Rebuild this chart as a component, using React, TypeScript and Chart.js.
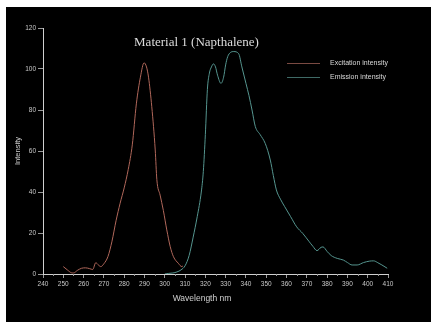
import React, { useEffect, useRef } from "react";
import { Chart, registerables } from "chart.js";

Chart.register(...registerables);

// Excitation spectrum (nm, intensity)
const excitationNm = [250, 252, 254, 255, 257, 259, 261, 263, 264.5, 266, 267.3, 268.5, 270, 272, 274, 276, 278, 280, 282, 284, 286, 288, 289.8, 291, 292, 293.6, 295.3, 296.1, 297.7, 299.3, 301, 302.7, 304.3, 306.7, 308.4, 309];
const excitationIntensity = [3.6, 2, 0.6, 0.5, 1.8, 2.8, 3, 2.6, 2.2, 5.5, 4.4, 3.6, 5, 8.5, 16, 26, 34.5, 42, 51, 63, 83, 96, 103, 101, 96, 81.6, 60.5, 46, 38.5, 31, 21.5, 13.3, 8.4, 5.2, 3.6, 4];

// Emission spectrum (nm, intensity)
const emissionNm = [300, 302, 304, 306, 308, 310, 312, 314, 316, 318, 319, 320, 321, 322, 323, 324, 325, 326, 327.7, 329, 330, 331, 332.3, 334, 336.4, 338, 340, 341.5, 343, 344.6, 347, 349.5, 352, 353.5, 355, 357, 359, 362, 365, 368, 371, 373, 375, 377, 378, 380, 382, 385, 388, 390, 392.3, 394.8, 398, 401, 403, 405, 407, 409.6];
const emissionIntensity = [0, 0.3, 0.5, 1, 2, 4, 9, 18, 28, 40, 50, 68, 90, 98, 101, 102.5, 101, 97, 93, 96, 102, 106, 108, 108.5, 107.5, 101, 93, 87, 80, 72, 68, 63.7, 55.6, 48, 41, 36.5, 33, 28, 23, 19.8, 16, 13.5, 11.4, 13, 13.2, 11, 9, 7.6, 6.8, 5.6, 4.4, 4.4, 5.6, 6.3, 6.4, 5.5, 4.4, 2.8];

const seriesLabels = ["Excitation intensity", "Emission intensity"];
const seriesColors = ["#b0675a", "#55958f"];
const legendLineColors = ["#7a4a42", "#3f6a66"];

const xTicks = { min: 240, max: 410, step: 10, minorStep: 5 };
const yTicks = { min: 0, max: 120, step: 20 };

const chartTitle = "Material 1 (Napthalene)";
const xTitle = "Wavelength nm";
const yTitle = "Intensity";

const toPoints = (xs: number[], ys: number[]) => xs.map((x, i) => ({ x, y: ys[i] }));

const SANS = "'Liberation Sans', Arial, sans-serif";
const SERIF = "'Liberation Serif', 'Times New Roman', serif";

// Draws title, axis titles, legend and minor x ticks on top of the chart
const overlayPlugin = {
  id: "overlay",
  afterDraw(chart: any) {
    const { ctx, chartArea, scales } = chart;
    ctx.save();

    // minor ticks on the x axis
    const xs = scales.x;
    ctx.strokeStyle = "#999";
    ctx.lineWidth = 1;
    for (let v = xTicks.min + xTicks.minorStep; v < xTicks.max; v += xTicks.step) {
      const px = Math.round(xs.getPixelForValue(v)) + 0.5;
      ctx.beginPath();
      ctx.moveTo(px, chartArea.bottom);
      ctx.lineTo(px, chartArea.bottom + 2);
      ctx.stroke();
    }

    // chart title
    ctx.fillStyle = "#dcdcdc";
    ctx.font = `13px ${SERIF}`;
    ctx.textAlign = "center";
    ctx.textBaseline = "middle";
    ctx.fillText(chartTitle, 190.5, 36);

    // axis titles
    ctx.fillStyle = "#d0d0d0";
    ctx.font = `8.5px ${SANS}`;
    ctx.fillText(xTitle, 196, 292);
    ctx.save();
    ctx.translate(12, (chartArea.top + chartArea.bottom) / 2);
    ctx.rotate(-Math.PI / 2);
    ctx.font = `7.5px ${SANS}`;
    ctx.fillText(yTitle, 0, 0);
    ctx.restore();

    // legend
    ctx.textAlign = "left";
    ctx.font = `7px ${SANS}`;
    chart.data.datasets.forEach((ds: any, i: number) => {
      const y = 56.5 + i * 14;
      ctx.strokeStyle = legendLineColors[i];
      ctx.lineWidth = 1;
      ctx.beginPath();
      ctx.moveTo(281, y);
      ctx.lineTo(314, y);
      ctx.stroke();
      ctx.fillStyle = "#d8d8d8";
      ctx.fillText(ds.label, 324, y);
    });

    ctx.restore();
  },
};

export default function App() {
  const canvasRef = useRef<HTMLCanvasElement | null>(null);

  useEffect(() => {
    if (!canvasRef.current) return;
    const chart = new Chart(canvasRef.current, {
      type: "line",
      data: {
        datasets: [
          {
            label: seriesLabels[0],
            data: toPoints(excitationNm, excitationIntensity),
            borderColor: seriesColors[0],
            borderWidth: 1,
            pointRadius: 0,
            cubicInterpolationMode: "monotone",
            fill: false,
          },
          {
            label: seriesLabels[1],
            data: toPoints(emissionNm, emissionIntensity),
            borderColor: seriesColors[1],
            borderWidth: 1,
            pointRadius: 0,
            cubicInterpolationMode: "monotone",
            fill: false,
          },
        ],
      },
      options: {
        animation: false,
        responsive: false,
        devicePixelRatio: 1,
        layout: { padding: { left: 0, top: 21, right: 43, bottom: 0 } },
        plugins: {
          legend: { display: false },
          title: { display: false },
          tooltip: { enabled: false },
        },
        scales: {
          x: {
            type: "linear",
            min: xTicks.min,
            max: xTicks.max,
            ticks: {
              stepSize: xTicks.step,
              color: "#c8c8c8",
              font: { size: 6.5, family: SANS },
              padding: 2,
              maxRotation: 0,
              autoSkip: false,
            },
            grid: { drawOnChartArea: false, tickLength: 4, tickColor: "#999" },
            border: { color: "#cfcfcf", width: 1 },
            afterFit: (scale: any) => {
              scale.height = 48;
            },
          },
          y: {
            min: yTicks.min,
            max: yTicks.max,
            ticks: {
              stepSize: yTicks.step,
              color: "#c8c8c8",
              font: { size: 6.5, family: SANS },
              padding: 2,
            },
            grid: { drawOnChartArea: false, tickLength: 5, tickColor: "#999" },
            border: { color: "#cfcfcf", width: 1 },
            afterFit: (scale: any) => {
              scale.width = 37;
            },
          },
        },
      },
      plugins: [overlayPlugin],
    });
    return () => chart.destroy();
  }, []);

  return (
    <div
      style={{
        position: "fixed",
        left: 6,
        top: 7,
        width: 425,
        height: 315,
        background: "#000",
      }}
    >
      <canvas ref={canvasRef} width={425} height={315} style={{ display: "block" }} />
    </div>
  );
}
